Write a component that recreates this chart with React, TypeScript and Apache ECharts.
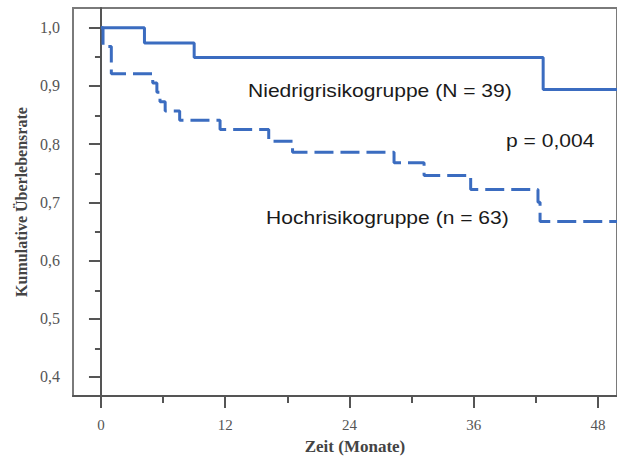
import React, { useEffect, useRef } from "react";
import * as echarts from "echarts";

// Kaplan–Meier estimates (time in months, cumulative survival)
const lowRiskTime = [0, 4.2, 9.0, 42.7, 50];
const lowRiskSurv = [1.0, 0.974, 0.949, 0.894, 0.894];

const highRiskTime = [0, 0.2, 1.0, 5.0, 5.4, 5.7, 6.2, 7.6, 11.5, 16.2, 18.5, 28.3, 31.2, 35.7, 42.2, 42.4, 50];
const highRiskSurv = [1.0, 0.968, 0.921, 0.905, 0.889, 0.873, 0.857, 0.841, 0.825, 0.805, 0.786, 0.768, 0.746, 0.722, 0.7, 0.667, 0.667];

const xMajorTicks = [0, 12, 24, 36, 48];
const xMinorTicks = [6, 18, 30, 42];
const yMajorTicks = [0.4, 0.5, 0.6, 0.7, 0.8, 0.9, 1.0];
const yMinorTicks = [0.45, 0.55, 0.65, 0.75, 0.85, 0.95];

const lowRiskLabel = "Niedrigrisikogruppe (N = 39)";
const highRiskLabel = "Hochrisikogruppe (n = 63)";
const pLabel = "p = 0,004";
const xTitle = "Zeit (Monate)";
const yTitle = "Kumulative Überlebensrate";

const X_MIN = -2.7;
const X_MAX = 49.83;
const Y_MIN = 0.367;
const Y_MAX = 1.034;

const BLUE = "#3b6cc0";
const AXIS = "#555";
const SERIF = "'Liberation Serif', 'Times New Roman', serif";
const SANS = "'Liberation Sans', Arial, sans-serif";

export default function App() {
  const ref = useRef<HTMLDivElement>(null);

  useEffect(() => {
    if (!ref.current) return;
    const chart = echarts.init(ref.current, undefined, { renderer: "svg" });
    const gridRect = { left: 73, top: 8, right: -2, bottom: 63 };
    const fmtY = (v: number) => v.toFixed(1).replace(".", ",");

    chart.setOption({
      animation: false,
      backgroundColor: "#fff",
      grid: [
        { ...gridRect, show: true, borderColor: "#7a7a7a", borderWidth: 2, backgroundColor: "transparent" },
        { ...gridRect },
      ],
      xAxis: [
        {
          type: "value",
          gridIndex: 0,
          min: X_MIN,
          max: X_MAX,
          position: "bottom",
          name: xTitle,
          nameLocation: "middle",
          nameGap: 42,
          nameTextStyle: {
            fontFamily: SERIF,
            fontWeight: "bold",
            fontSize: 17,
            color: "#444",
            padding: [0, 0, 0, 20],
          },
          axisLine: { show: true, lineStyle: { color: AXIS, width: 2 } },
          axisTick: { show: true, customValues: xMajorTicks, length: 12, lineStyle: { color: AXIS, width: 2 } },
          axisLabel: {
            customValues: xMajorTicks,
            margin: 21,
            fontFamily: SERIF,
            fontSize: 15,
            color: AXIS,
            formatter: (v: number) => String(v),
          },
          splitLine: { show: false },
        },
        {
          type: "value",
          gridIndex: 1,
          min: X_MIN,
          max: X_MAX,
          position: "bottom",
          axisLine: { show: false },
          axisTick: { show: true, customValues: xMinorTicks, length: 6, lineStyle: { color: AXIS, width: 2 } },
          axisLabel: { show: false },
          splitLine: { show: false },
        },
      ],
      yAxis: [
        {
          type: "value",
          gridIndex: 0,
          min: Y_MIN,
          max: Y_MAX,
          position: "left",
          name: yTitle,
          nameLocation: "middle",
          nameGap: 42,
          nameTextStyle: {
            fontFamily: SERIF,
            fontWeight: "bold",
            fontSize: 16,
            color: "#444",
          },
          axisLine: { show: true, lineStyle: { color: AXIS, width: 2 } },
          axisTick: { show: true, customValues: yMajorTicks, length: 12, lineStyle: { color: AXIS, width: 2 } },
          axisLabel: {
            customValues: yMajorTicks,
            margin: 13,
            fontFamily: SERIF,
            fontSize: 16,
            color: AXIS,
            formatter: fmtY,
          },
          splitLine: { show: false },
        },
        {
          type: "value",
          gridIndex: 1,
          min: Y_MIN,
          max: Y_MAX,
          position: "left",
          axisLine: { show: false },
          axisTick: { show: true, customValues: yMinorTicks, length: 6, lineStyle: { color: AXIS, width: 2 } },
          axisLabel: { show: false },
          splitLine: { show: false },
        },
      ],
      series: [
        {
          name: lowRiskLabel,
          type: "line",
          xAxisIndex: 0,
          yAxisIndex: 0,
          step: "end",
          showSymbol: false,
          clip: true,
          data: lowRiskTime.map((t, i) => [t, lowRiskSurv[i]]),
          lineStyle: { color: BLUE, width: 3, type: "solid" },
          z: 3,
        },
        {
          name: highRiskLabel,
          type: "line",
          xAxisIndex: 0,
          yAxisIndex: 0,
          step: "end",
          showSymbol: false,
          clip: true,
          data: highRiskTime.map((t, i) => [t, highRiskSurv[i]]),
          lineStyle: { color: BLUE, width: 3, type: [19, 7] },
          z: 3,
        },
      ],
      graphic: [
        {
          type: "text",
          x: 248,
          y: 91,
          scaleX: 1.17,
          style: { text: lowRiskLabel, font: `18px ${SANS}`, fill: "#1a1a1a", verticalAlign: "middle", align: "left" },
        },
        {
          type: "text",
          x: 506,
          y: 141,
          scaleX: 1.17,
          style: { text: pLabel, font: `18px ${SANS}`, fill: "#1a1a1a", verticalAlign: "middle", align: "left" },
        },
        {
          type: "text",
          x: 266,
          y: 218,
          scaleX: 1.17,
          style: { text: highRiskLabel, font: `18px ${SANS}`, fill: "#1a1a1a", verticalAlign: "middle", align: "left" },
        },
      ],
    });

    return () => chart.dispose();
  }, []);

  return (
    <div
      ref={ref}
      style={{ position: "fixed", left: 0, top: 0, width: 617, height: 460, background: "#fff" }}
    />
  );
}
